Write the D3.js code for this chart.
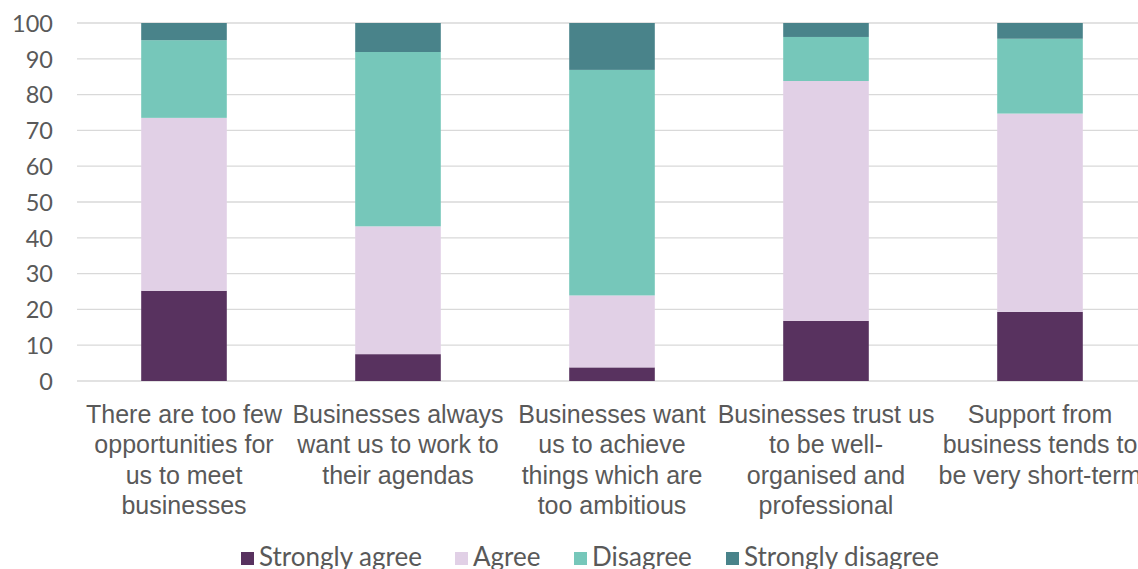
<!DOCTYPE html>
<html>
<head>
<meta charset="utf-8">
<script src="https://cdn.jsdelivr.net/npm/d3@7"></script>
<style>
  html, body { margin: 0; padding: 0; background: #fff; overflow: hidden; }
  svg { display: block; font-family: Lato, "Open Sans", sans-serif; }
</style>
</head>
<body>
<svg id="chart" width="1138" height="569"></svg>
<script>
const categories = [
  "There are too few|opportunities for|us to meet|businesses",
  "Businesses always|want us to work to|their agendas",
  "Businesses want|us to achieve|things which are|too ambitious",
  "Businesses trust us|to be well-|organised and|professional",
  "Support from|business tends to|be very short-term"
];
const seriesNames = ["Strongly agree", "Agree", "Disagree", "Strongly disagree"];
const stronglyAgree    = [25.2, 7.5, 3.8, 16.8, 19.3];
const agree            = [48.3, 35.7, 20.1, 67.0, 55.4];
const disagree         = [21.7, 48.7, 63.0, 12.3, 20.9];
const stronglyDisagree = [4.8, 8.1, 13.1, 3.9, 4.4];
const yTicks = [0, 10, 20, 30, 40, 50, 60, 70, 80, 90, 100];
const colors = ["#58325f", "#e1d0e6", "#76c7ba", "#49838a"];

const seriesValues = [stronglyAgree, agree, disagree, stronglyDisagree];
const rows = categories.map((c, i) => {
  const r = { cat: c };
  seriesNames.forEach((s, j) => r[s] = seriesValues[j][i]);
  return r;
});

const svg = d3.select("#chart");
const margin = { left: 77, top: 23, right: -9, bottom: 188 };
const W = 1138, H = 569;
const plotW = W - margin.left - margin.right;
const plotH = H - margin.top - margin.bottom;

const x = d3.scaleBand().domain(categories).range([margin.left, margin.left + plotW]).paddingInner(0.6).paddingOuter(0.3);
const y = d3.scaleLinear().domain([0, 100]).range([margin.top + plotH, margin.top]);

const textColor = "#595959";

// gridlines
svg.append("g").selectAll("line").data(yTicks).join("line")
  .attr("x1", margin.left).attr("x2", W)
  .attr("y1", d => y(d)).attr("y2", d => y(d))
  .attr("stroke", "#d9d9d9").attr("stroke-width", 1.3);

// y axis labels
const yAxis = d3.axisLeft(y).tickValues(yTicks).tickSize(0).tickPadding(0);
const gy = svg.append("g").attr("transform", `translate(${margin.left - 24},0)`).call(yAxis);
gy.select(".domain").remove();
gy.selectAll("text").attr("fill", textColor).style("font-size", "23.5px").style("font-family", "Lato, sans-serif").attr("dy", "0.35em");

// bars
const stack = d3.stack().keys(seriesNames);
const stacked = stack(rows);
svg.append("g").selectAll("g").data(stacked).join("g")
  .attr("fill", (d, i) => colors[i])
  .selectAll("rect").data(d => d).join("rect")
  .attr("x", d => x(d.data.cat))
  .attr("width", x.bandwidth())
  .attr("y", d => y(d[1]))
  .attr("height", d => y(d[0]) - y(d[1]));

// x axis labels
const xAxis = d3.axisBottom(x).tickSize(0).tickFormat("");
const gx = svg.append("g").attr("transform", `translate(0,${y(0)})`).call(xAxis);
gx.select(".domain").remove();
gx.selectAll(".tick").each(function(d) {
  const t = d3.select(this).append("text")
    .attr("text-anchor", "middle")
    .attr("fill", textColor)
    .style("font-size", "25px");
  d.split("|").forEach((line, i) => {
    t.append("tspan").attr("x", 0).attr("y", 42 + i * 30.3).text(line);
  });
});

// legend
const legendX = [241, 455, 574, 726];
const lg = svg.append("g").selectAll("g").data(seriesNames).join("g")
  .attr("transform", (d, i) => `translate(${legendX[i]},552)`);
lg.append("rect").attr("width", 13).attr("height", 13).attr("y", 0).attr("fill", (d, i) => colors[i]);
lg.append("text").attr("x", 18).attr("y", 14).attr("fill", textColor).style("font-size", "26px").text(d => d);
</script>
</body>
</html>
